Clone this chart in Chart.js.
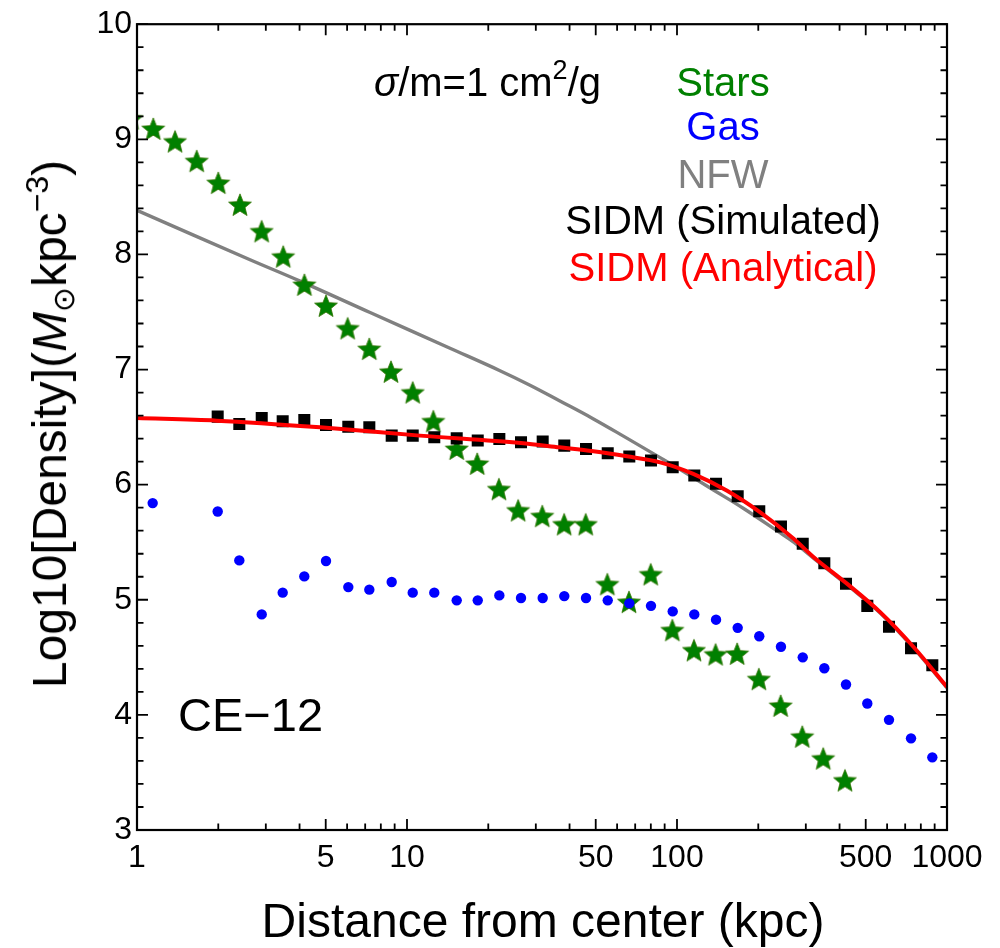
<!DOCTYPE html>
<html><head><meta charset="utf-8">
<script src="https://cdn.jsdelivr.net/npm/chart.js@4.4.1/dist/chart.umd.min.js"></script>
<style>
html,body{margin:0;padding:0;background:#fff;}
#wrap{position:relative;width:1000px;height:948px;overflow:hidden;font-family:"Liberation Sans",Arial,Helvetica,sans-serif;}
#c{position:absolute;left:0;top:0;}
.t{position:absolute;white-space:nowrap;line-height:1;}
.c{transform:translateX(-50%);}
.r{position:relative;line-height:0;}
</style></head>
<body><div id="wrap"><canvas id="c" width="1000" height="948"></canvas>
<div class="t" style="left:374px;top:62px;font-size:40px;color:#000"><i>σ</i>/m=1 cm<span class="r" style="font-size:27px;top:-17px">2</span>/g</div>
<div class="t c" style="left:723px;top:62px;font-size:40px;color:rgb(0,128,0)">Stars</div>
<div class="t c" style="left:723px;top:106px;font-size:40px;color:#0000ff">Gas</div>
<div class="t c" style="left:723px;top:154px;font-size:40px;color:#808080">NFW</div>
<div class="t c" style="left:723px;top:200px;font-size:40px;color:#000">SIDM (Simulated)</div>
<div class="t c" style="left:723px;top:247px;font-size:40px;color:#ff0000">SIDM (Analytical)</div>
<div class="t" style="left:178px;top:691px;font-size:47px;color:#000">CE−12</div>
<div class="t c" style="left:543px;top:897px;font-size:48px;color:#000">Distance from center (kpc)</div>
<div class="t" style="left:50px;top:424px;font-size:48px;color:#000;transform:translate(-50%,-50%) rotate(-90deg)">Log10[Density](<i>M</i><span class="r" style="font-size:30px;top:8px">⊙</span>kpc<span class="r" style="font-size:32px;top:-18px">−3</span>)</div>
</div>
<script>
// ---- data ----
const starX = [0.954, 1.149, 1.383, 1.664, 2.0, 2.407, 2.896, 3.48, 4.17, 5.01, 6.03, 7.25, 8.72, 10.5, 12.52, 15.28, 18.2, 21.9, 25.8, 31.7, 38.2, 45.9, 55.2, 66.4, 79.9, 96.1, 115.6, 139, 167, 201, 242, 291, 348, 419];
const starY = [9.18, 9.09, 8.98, 8.81, 8.62, 8.43, 8.20, 7.98, 7.735, 7.553, 7.357, 7.178, 6.98, 6.80, 6.55, 6.31, 6.18, 5.96, 5.775, 5.726, 5.654, 5.654, 5.134, 4.98, 5.22, 4.735, 4.56, 4.524, 4.53, 4.31, 4.078, 3.81, 3.62, 3.43];

const gasX = [1.143, 1.99, 2.393, 2.897, 3.464, 4.165, 5.012, 6.062, 7.252, 8.777, 10.5, 12.62, 15.28, 18.28, 21.98, 26.44, 31.81, 38.24, 46.03, 55.39, 66.58, 80.11, 96.4, 115.9, 139.5, 167.8, 201.7, 242.7, 292.2, 351.3, 422.6, 506.8, 609.8, 735.8, 882.3];
const gasY = [5.84, 5.767, 5.342, 4.873, 5.062, 5.203, 5.337, 5.110, 5.088, 5.154, 5.062, 5.062, 4.995, 4.995, 5.038, 5.015, 5.015, 5.032, 5.015, 4.995, 4.969, 4.947, 4.899, 4.873, 4.827, 4.756, 4.683, 4.592, 4.500, 4.405, 4.264, 4.099, 3.957, 3.796, 3.631];

const simX = [1.99, 2.393, 2.897, 3.464, 4.165, 5.012, 6.062, 7.252, 8.777, 10.5, 12.62, 15.28, 18.28, 21.98, 26.44, 31.81, 38.24, 46.03, 55.39, 66.58, 80.11, 96.4, 115.9, 139.5, 167.8, 201.7, 242.7, 292.2, 351.3, 422.6, 506.8, 609.8, 735.8, 882.3];
const simY = [6.591, 6.527, 6.579, 6.550, 6.562, 6.519, 6.504, 6.498, 6.426, 6.426, 6.412, 6.402, 6.383, 6.397, 6.368, 6.374, 6.339, 6.310, 6.272, 6.244, 6.209, 6.151, 6.079, 6.007, 5.899, 5.769, 5.637, 5.487, 5.318, 5.140, 4.947, 4.765, 4.578, 4.431];

const nfwX = [1, 2.622, 4.02, 7.30, 14.43, 22.1, 28.55, 36.7, 48.86, 65.2, 86.6, 100, 132.7, 176.5, 235, 270.6, 320.9, 426, 565.5, 752, 1000];
const nfwY = [8.383, 7.954, 7.768, 7.495, 7.185, 6.990, 6.864, 6.729, 6.573, 6.404, 6.235, 6.148, 5.971, 5.793, 5.598, 5.500, 5.36, 5.13, 4.885, 4.58, 4.235];

const sidmX = [1, 1.973, 4.765, 11.16, 26.4, 36.7, 49.0, 65.2, 86.6, 114.9, 152.8, 202.8, 270.6, 320.9, 426, 565.5, 752, 1000];
const sidmY = [6.578, 6.556, 6.498, 6.426, 6.362, 6.324, 6.290, 6.246, 6.194, 6.094, 5.949, 5.761, 5.530, 5.370, 5.140, 4.893, 4.590, 4.243];

const xTickValues = [1, 5, 10, 50, 100, 500, 1000];
const yTickValues = [3, 4, 5, 6, 7, 8, 9, 10];

// ---- helpers ----
const pts = (xs, ys) => xs.map((x, i) => ({x: x, y: ys[i]}));

function makeStar(R, ratio, fill, stroke) {
  const s = Math.ceil(R * 2 + 4);
  const cv = document.createElement('canvas');
  cv.width = s; cv.height = s;
  const g = cv.getContext('2d');
  const cx = s / 2, cy = s / 2 + 0.9;
  g.beginPath();
  for (let i = 0; i < 10; i++) {
    const r = (i % 2) ? R * ratio : R;
    const a = -Math.PI / 2 + i * Math.PI / 5;
    const px = cx + r * Math.cos(a), py = cy + r * Math.sin(a);
    if (i) g.lineTo(px, py); else g.moveTo(px, py);
  }
  g.closePath();
  g.fillStyle = fill; g.fill();
  g.lineWidth = 0.8; g.strokeStyle = stroke; g.stroke();
  return cv;
}
const starImg = makeStar(12, 0.44, 'rgb(0,128,0)', 'rgb(50,115,0)');

const framePlugin = {
  id: 'frame',
  afterDatasetsDraw(chart) {
    const {ctx, chartArea: a, scales: {x, y}} = chart;
    ctx.save();
    ctx.strokeStyle = '#000';
    ctx.lineWidth = 2.2;
    ctx.strokeRect(a.left, a.top, a.right - a.left, a.bottom - a.top);
    ctx.lineWidth = 1.8;
    ctx.beginPath();
    for (let i = 0; i <= 35; i++) {
      const p = y.getPixelForValue(yTickValues[0] + i * 0.2);
      const len = (i % 5 === 0) ? 11 : 6.5;
      ctx.moveTo(a.left, p); ctx.lineTo(a.left + len, p);
      ctx.moveTo(a.right, p); ctx.lineTo(a.right - len, p);
    }
    for (const d of [1, 10, 100]) {
      for (let m = 1; m <= 9; m++) {
        const v = m * d;
        const p = x.getPixelForValue(v);
        const len = xTickValues.includes(v) ? 11 : 6.5;
        ctx.moveTo(p, a.bottom); ctx.lineTo(p, a.bottom - len);
        ctx.moveTo(p, a.top); ctx.lineTo(p, a.top + len);
      }
    }
    ctx.stroke();
    ctx.restore();
  }
};

Chart.defaults.font.family = '"Liberation Sans", Arial, Helvetica, sans-serif';
Chart.defaults.color = '#000';

new Chart(document.getElementById('c'), {
  type: 'scatter',
  data: {
    datasets: [
      {label: 'SIDM (Analytical)', data: pts(sidmX, sidmY), showLine: true, pointRadius: 0,
       borderColor: '#ff0000', borderWidth: 4, fill: false, cubicInterpolationMode: 'monotone', order: 0},
      {label: 'SIDM (Simulated)', data: pts(simX, simY), showLine: false, pointStyle: 'rect',
       pointRadius: 8.5, backgroundColor: '#000', borderWidth: 0, pointBorderWidth: 0, order: 1},
      {label: 'Gas', data: pts(gasX, gasY), showLine: false, pointStyle: 'circle',
       pointRadius: 5.2, backgroundColor: '#0000ff', borderWidth: 0, pointBorderWidth: 0, order: 2},
      {label: 'Stars', data: pts(starX, starY), showLine: false, pointStyle: starImg,
       pointRadius: 12, clip: 0, order: 3},
      {label: 'NFW', data: pts(nfwX, nfwY), showLine: true, pointRadius: 0,
       borderColor: '#808080', borderWidth: 3.4, fill: false, tension: 0.4, order: 4}
    ]
  },
  options: {
    responsive: false,
    devicePixelRatio: 1,
    animation: false,
    layout: {padding: {top: 23, right: 53, left: 0, bottom: 0}},
    plugins: {legend: {display: false}, tooltip: {enabled: false}},
    scales: {
      x: {
        type: 'logarithmic', position: 'bottom', min: 1, max: 1000,
        grid: {display: false, drawTicks: false, tickLength: 0},
        border: {display: false},
        ticks: {font: {size: 32}, color: '#000', padding: 9, autoSkip: false, maxRotation: 0,
                callback: (v) => String(v)},
        afterBuildTicks: (s) => { s.ticks = xTickValues.map(v => ({value: v})); },
        afterFit: (s) => { s.height = 118; }
      },
      y: {
        type: 'linear', min: 3, max: 10,
        grid: {display: false, drawTicks: false, tickLength: 0},
        border: {display: false},
        ticks: {font: {size: 32}, color: '#000', padding: 5, stepSize: 1},
        afterBuildTicks: (s) => { s.ticks = yTickValues.map(v => ({value: v})); },
        afterFit: (s) => { s.width = 137; }
      }
    }
  },
  plugins: [framePlugin]
});
</script>
</body></html>
